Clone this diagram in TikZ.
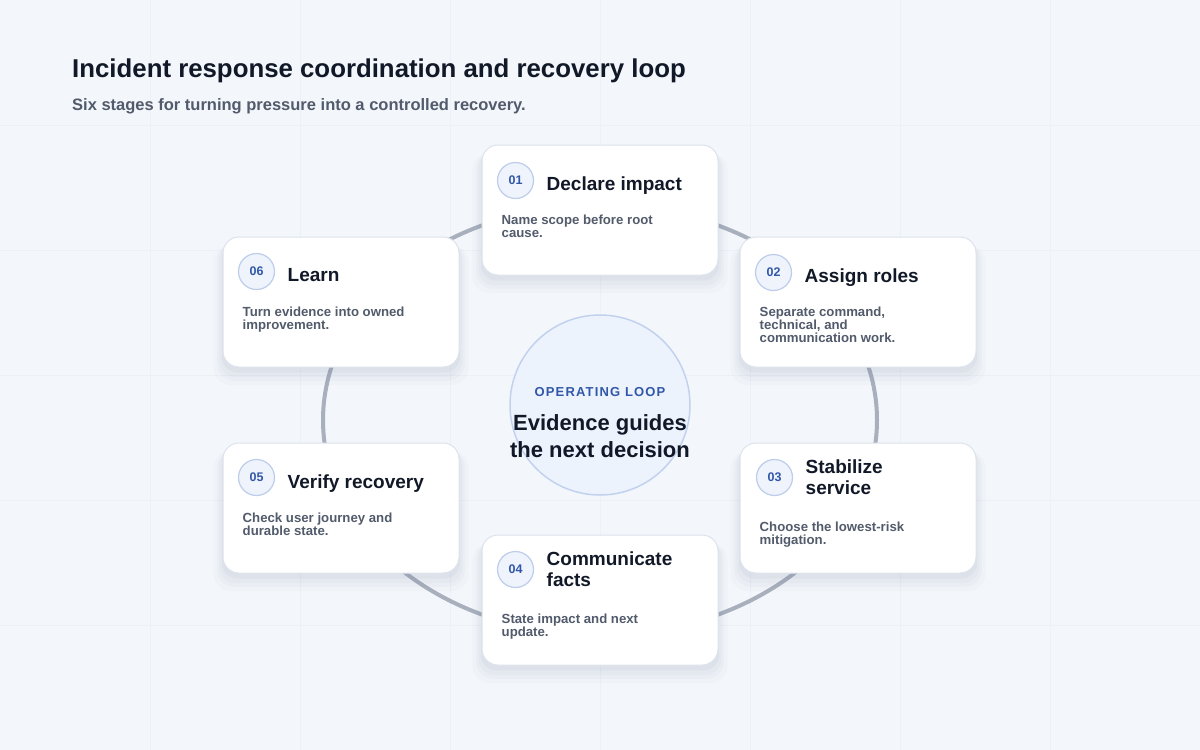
\documentclass[tikz,border=0pt]{standalone}
\usepackage{fontspec}
\setmainfont{Liberation Sans}
\newfontfamily\capsfont[LetterSpace=9]{Liberation Sans}
\usetikzlibrary{shadows}
\definecolor{bgcol}{HTML}{F3F6FB}
\definecolor{gridcol}{HTML}{ECF0F7}
\definecolor{ink}{HTML}{111827}
\definecolor{muted}{HTML}{525B6B}
\definecolor{ringcol}{HTML}{A9B0BD}
\definecolor{cardline}{HTML}{DDE3EC}
\definecolor{badgefill}{HTML}{EEF3FC}
\definecolor{badgeline}{HTML}{BDCDEA}
\definecolor{accent}{HTML}{3157A8}
\definecolor{hubfill}{HTML}{EDF3FD}
\definecolor{hubline}{HTML}{C2D2EE}
\definecolor{shadowcol}{HTML}{6A7896}
\tikzset{
  card/.style={draw=cardline, line width=1pt, fill=white, rounded corners=16pt,
    minimum width=236pt, minimum height=130pt,
    drop shadow={shadow xshift=0pt, shadow yshift=-12pt, shadow scale=1.08, opacity=0.025, fill=shadowcol},
    drop shadow={shadow xshift=0pt, shadow yshift=-10pt, shadow scale=1.05, opacity=0.035, fill=shadowcol},
    drop shadow={shadow xshift=0pt, shadow yshift=-8pt, shadow scale=1.03, opacity=0.045, fill=shadowcol},
    drop shadow={shadow xshift=0pt, shadow yshift=-5pt, shadow scale=1.01, opacity=0.05, fill=shadowcol}},
  badge/.style={circle, draw=badgeline, fill=badgefill, line width=1.2pt,
    minimum size=36pt, inner sep=0pt, text=accent, font=\fontsize{12.5}{12.5}\selectfont\bfseries},
  stagetitle/.style={anchor=north west, inner sep=0pt, align=left, text=ink,
    font=\fontsize{19}{21}\selectfont\bfseries},
  stagetext/.style={anchor=north west, inner sep=0pt, align=left, text=muted,
    font=\fontsize{13.2}{13}\selectfont\bfseries},
}
\begin{document}
\begin{tikzpicture}[x=1pt, y=-1pt, line join=round, line cap=round]
% page and faint grid
\useasboundingbox (0,0) rectangle (1200,750);
\fill[bgcol] (0,0) rectangle (1200,750);
\foreach \gx in {150,300,...,1050} \draw[gridcol, line width=1pt] (\gx,0) -- (\gx,750);
\foreach \gy in {125,250,...,625} \draw[gridcol, line width=1pt] (0,\gy) -- (1200,\gy);
% headings
\node[anchor=base west, inner sep=0pt, text=ink, font=\fontsize{25.8}{26}\selectfont\bfseries] (title) at (72,77) {Incident response coordination and recovery loop};
\node[anchor=base west, inner sep=0pt, text=muted, font=\fontsize{16.5}{17}\selectfont\bfseries] (subtitle) at (72,110) {Six stages for turning pressure into a controlled recovery.};
% loop ring
\coordinate (ring) at (600,420);
\draw[ringcol, line width=4pt] (ring) ellipse [x radius=277, y radius=215];
% hub
\node[circle, minimum size=180pt, fill=hubfill, draw=hubline, line width=1.5pt] (hub) at (600,405) {};
\node[text=accent, inner sep=0pt, font={\capsfont\fontsize{13}{13}\selectfont\bfseries}] (hublabel) at (600,392) {OPERATING LOOP};
\node[align=center, inner sep=0pt, text=ink, font=\fontsize{22}{27}\selectfont\bfseries] (hubtext) at (600,436) {Evidence guides\\the next decision};
% 01
\node[card] (s1) at (600,210) {};
\node[badge] (b1) at ([shift={(34,36)}]s1.north west) {01};
\node[stagetitle] (t1) at ([shift={(65,32)}]s1.north west) {Declare impact};
\node[stagetext] (d1) at ([shift={(20,70)}]s1.north west) {Name scope before root\\cause.};
% 02
\node[card] (s2) at (858,302) {};
\node[badge] (b2) at ([shift={(34,36)}]s2.north west) {02};
\node[stagetitle] (t2) at ([shift={(65,32)}]s2.north west) {Assign roles};
\node[stagetext] (d2) at ([shift={(20,70)}]s2.north west) {Separate command,\\technical, and\\communication work.};
% 03
\node[card] (s3) at (858,508) {};
\node[badge] (b3) at ([shift={(35,35)}]s3.north west) {03};
\node[stagetitle] (t3) at ([shift={(66,17)}]s3.north west) {Stabilize\\service};
\node[stagetext] (d3) at ([shift={(20,79)}]s3.north west) {Choose the lowest-risk\\mitigation.};
% 04
\node[card] (s4) at (600,600) {};
\node[badge] (b4) at ([shift={(34,35)}]s4.north west) {04};
\node[stagetitle] (t4) at ([shift={(65,17)}]s4.north west) {Communicate\\facts};
\node[stagetext] (d4) at ([shift={(20,79)}]s4.north west) {State impact and next\\update.};
% 05
\node[card] (s5) at (341,508) {};
\node[badge] (b5) at ([shift={(34,35)}]s5.north west) {05};
\node[stagetitle] (t5) at ([shift={(65,32)}]s5.north west) {Verify recovery};
\node[stagetext] (d5) at ([shift={(20,70)}]s5.north west) {Check user journey and\\durable state.};
% 06
\node[card] (s6) at (341,302) {};
\node[badge] (b6) at ([shift={(34,35)}]s6.north west) {06};
\node[stagetitle] (t6) at ([shift={(65,32)}]s6.north west) {Learn};
\node[stagetext] (d6) at ([shift={(20,70)}]s6.north west) {Turn evidence into owned\\improvement.};
\end{tikzpicture}
\end{document}
